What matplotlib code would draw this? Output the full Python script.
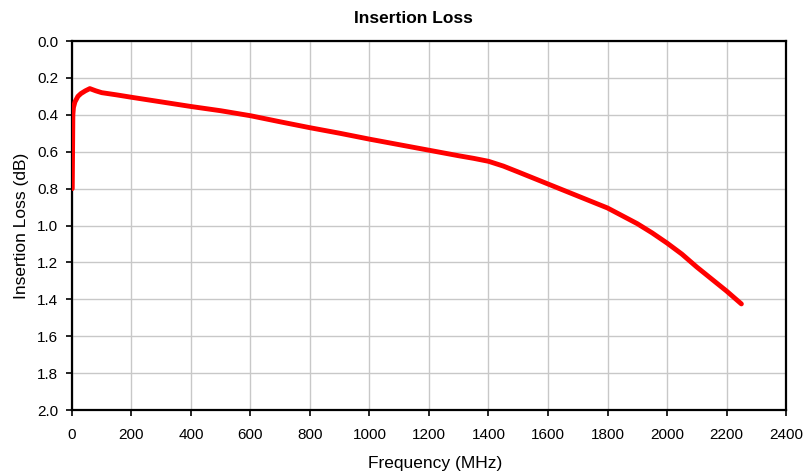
import matplotlib
matplotlib.use("Agg")
import matplotlib.pyplot as plt

plt.rcParams['font.family'] = ['Liberation Sans', 'DejaVu Sans']

freq_mhz = [1, 3, 5, 10, 20, 30, 45, 60, 80, 100, 150, 200, 300, 400, 500, 600,
            700, 800, 900, 1000, 1100, 1200, 1300, 1350, 1400, 1450, 1500, 1600,
            1700, 1800, 1900, 1950, 2000, 2050, 2100, 2150, 2200, 2250]
loss_db = [0.80, 0.40, 0.36, 0.33, 0.30, 0.285, 0.27, 0.258, 0.27, 0.28, 0.292,
           0.305, 0.33, 0.355, 0.378, 0.405, 0.438, 0.47, 0.50, 0.532, 0.562,
           0.592, 0.622, 0.636, 0.652, 0.678, 0.71, 0.775, 0.84, 0.905, 0.99,
           1.04, 1.095, 1.155, 1.225, 1.29, 1.355, 1.425]
x_ticks = list(range(0, 2401, 200))
y_ticks = [0.0, 0.2, 0.4, 0.6, 0.8, 1.0, 1.2, 1.4, 1.6, 1.8, 2.0]

fig = plt.figure(figsize=(8.06, 4.74), dpi=100)
ax = fig.add_axes([0.0893, 0.135, 0.9752 - 0.0893, 0.9135 - 0.135])
ax.plot(freq_mhz, loss_db, color='#ff0000', linewidth=3.5, solid_capstyle='round',
        solid_joinstyle='round', zorder=3)
ax.set_xlim(0, 2400)
ax.set_ylim(2.0, 0.0)
ax.set_xticks(x_ticks)
ax.set_yticks(y_ticks)
ax.set_yticklabels([f"{v:.1f}" for v in y_ticks])
ax.grid(True, color='#c8c8c8', linewidth=1.0)
ax.set_axisbelow(True)
for s in ax.spines.values():
    s.set_linewidth(1.6)
    s.set_color('black')
ax.tick_params(axis='both', direction='out', length=4, width=1.2, labelsize=11,
               colors='black')
ax.tick_params(axis='x', pad=9)
ax.tick_params(axis='y', pad=6)
ax.set_title("Insertion Loss", fontsize=12.5, fontweight='bold', pad=13, x=0.478)
ax.set_xlabel("Frequency (MHz)", fontsize=12.5, labelpad=10)
ax.xaxis.label.set_x(0.508)
ax.set_ylabel("Insertion Loss (dB)", fontsize=12.5, labelpad=6)
fig.savefig("out.png", dpi=100)
